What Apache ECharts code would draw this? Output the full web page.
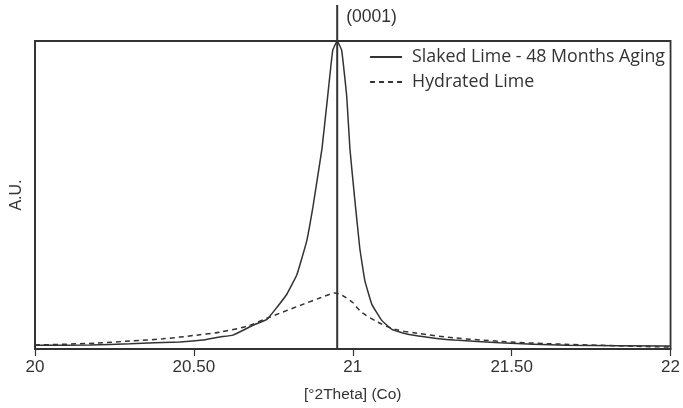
<!DOCTYPE html>
<html>
<head>
<meta charset="utf-8">
<script src="https://cdn.jsdelivr.net/npm/echarts@6/dist/echarts.min.js"></script>
<style>
html,body{margin:0;padding:0;background:#fff;}
#chart{width:683px;height:408px;}
</style>
</head>
<body>
<div id="chart"></div>
<script>
// Data
const slakedX = [20.0, 20.173, 20.299, 20.456, 20.528, 20.582, 20.623, 20.686, 20.73, 20.761, 20.792, 20.824, 20.855, 20.874, 20.89, 20.903, 20.921, 20.937, 20.951, 20.965, 20.981, 20.991, 21.006, 21.022, 21.038, 21.06, 21.091, 21.123, 21.173, 21.258, 21.321, 21.462, 21.673, 22.0];
const slakedY = [1.2, 1.3, 1.7, 2.3, 2.9, 3.9, 4.5, 7.7, 9.6, 13.5, 17.7, 24.1, 35, 45.7, 56.3, 65, 82, 97, 100, 97, 82, 65, 48.9, 32.8, 22.2, 14.5, 9.3, 6.4, 4.8, 3.5, 2.9, 2.0, 1.2, 1.0];
const hydratedX = [20.0, 20.195, 20.299, 20.403, 20.509, 20.582, 20.667, 20.73, 20.843, 20.9, 20.928, 20.943, 20.959, 20.975, 21.0, 21.013, 21.028, 21.079, 21.132, 21.204, 21.321, 21.462, 21.619, 22.0];
const hydratedY = [1.3, 1.9, 2.6, 3.3, 4.5, 5.5, 7.4, 10, 14.5, 16.7, 17.8, 18.2, 17.8, 16.9, 15.1, 13.5, 11.9, 8.7, 6.4, 5.1, 3.6, 2.5, 1.7, 0.6];
const seriesNames = ['Slaked Lime - 48 Months Aging', 'Hydrated Lime'];
const xTickLabels = {20: '20', 20.5: '20.50', 21: '21', 21.5: '21.50', 22: '22'};
const peakX = 20.951;
const peakLabel = '(0001)';
const xAxisName = '[°2Theta] (Co)';
const yAxisName = 'A.U.';

(function () {
const zip = (xs, ys) => xs.map((x, i) => [x, ys[i]]);
const ink = '#333';
const chart = echarts.init(document.getElementById('chart'), null, {renderer: 'canvas'});
chart.setOption({
  animation: false,
  backgroundColor: '#fff',
  grid: {left: 35, right: 12, top: 41, bottom: 56, show: true, borderColor: ink, borderWidth: 1.8, backgroundColor: 'transparent'},
  legend: {
    right: 18, top: 48, orient: 'vertical', padding: 0, itemGap: 7,
    itemWidth: 32, itemHeight: 14,
    itemStyle: {opacity: 0},
    textStyle: {fontFamily: 'Open Sans', fontSize: 17.8, color: ink, padding: [0, 0, 0, 5]},
    data: seriesNames.map(n => ({name: n}))
  },
  xAxis: {
    type: 'value', min: 20, max: 22, interval: 0.5,
    name: xAxisName, nameLocation: 'middle', nameGap: 38,
    nameTextStyle: {fontFamily: 'Liberation Sans', fontSize: 15.5, color: ink},
    axisLine: {show: true, lineStyle: {color: ink, width: 1.8}},
    axisTick: {show: true, inside: false, length: 7, lineStyle: {color: ink, width: 1.2}},
    axisLabel: {fontFamily: 'Liberation Sans', fontSize: 17, color: ink, margin: 10,
      formatter: v => xTickLabels[v] !== undefined ? xTickLabels[v] : ''},
    splitLine: {show: false}
  },
  yAxis: {
    type: 'value', min: 0, max: 100,
    name: yAxisName, nameLocation: 'middle', nameGap: 10,
    nameTextStyle: {fontFamily: 'Liberation Sans', fontSize: 16, color: ink},
    axisLine: {show: true, lineStyle: {color: ink, width: 1.8}},
    axisTick: {show: false}, axisLabel: {show: false}, splitLine: {show: false}
  },
  series: [
    {name: seriesNames[0], type: 'line', data: zip(slakedX, slakedY), symbol: 'none', smooth: 0.1,
     lineStyle: {color: ink, width: 1.5}, itemStyle: {color: ink}},
    {name: seriesNames[1], type: 'line', data: zip(hydratedX, hydratedY), symbol: 'none', smooth: 0.3,
     lineStyle: {color: ink, width: 1.5, type: [5, 4]}, itemStyle: {color: ink}}
  ]
});
// Peak marker line that runs above the plot frame
const pBot = chart.convertToPixel({gridIndex: 0}, [peakX, 0]);
chart.setOption({
  graphic: [
    {type: 'line', shape: {x1: pBot[0], y1: pBot[1], x2: pBot[0], y2: 5}, style: {stroke: ink, lineWidth: 2}, z: 10},
    {type: 'text', x: pBot[0] + 9, y: 8, style: {text: peakLabel, fontFamily: 'Liberation Sans', fontSize: 17.5, fill: ink}, z: 10}
  ]
});
})();
</script>
</body>
</html>
